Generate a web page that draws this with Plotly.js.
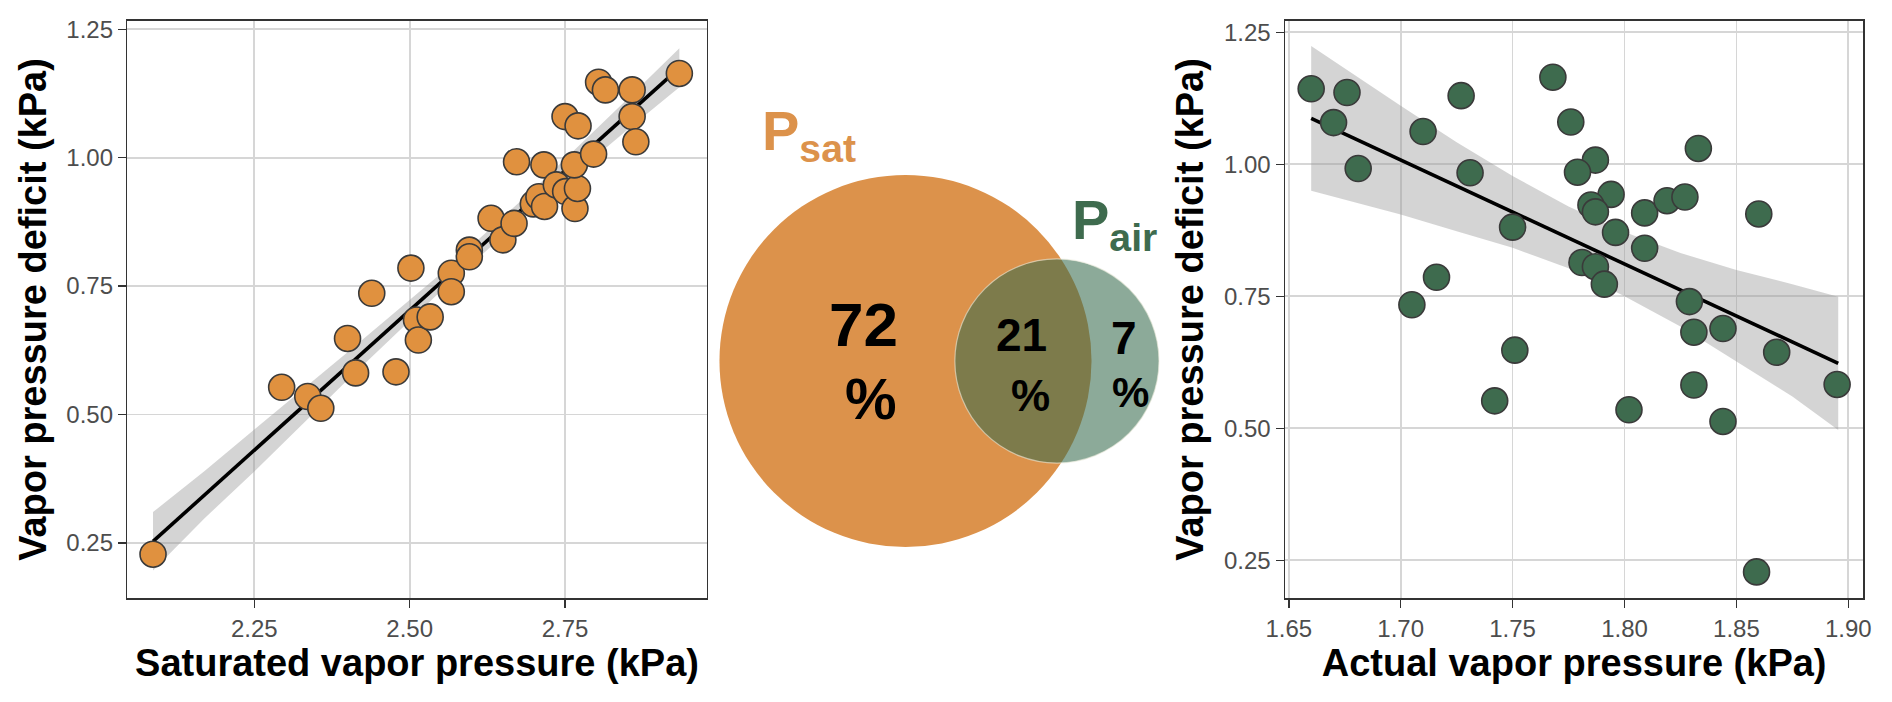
<!DOCTYPE html>
<html>
<head>
<meta charset="utf-8">
<script src="https://cdn.plot.ly/plotly-3.0.1.min.js"></script>
<style>
  html, body { margin: 0; padding: 0; background: #ffffff; }
  #chart { width: 1892px; height: 702px; }
</style>
</head>
<body>
<div id="chart"></div>
<script>
// --- Données ---

// Panneau gauche : pression de vapeur saturante vs déficit
const satPressure = [2.087, 2.294, 2.336, 2.357, 2.400, 2.413, 2.439, 2.478, 2.502, 2.511,
                     2.514, 2.533, 2.567, 2.567, 2.596, 2.596, 2.631, 2.650, 2.668, 2.672,
                     2.699, 2.708, 2.717, 2.716, 2.736, 2.751, 2.766, 2.770, 2.765, 2.750,
                     2.771, 2.796, 2.804, 2.815, 2.858, 2.858, 2.864, 2.934];
const satDeficit  = [0.228, 0.553, 0.535, 0.512, 0.648, 0.581, 0.736, 0.583, 0.785, 0.684,
                     0.645, 0.690, 0.775, 0.739, 0.820, 0.807, 0.882, 0.840, 0.872, 0.992,
                     0.910, 0.924, 0.905, 0.986, 0.947, 0.934, 0.901, 0.940, 0.986, 1.080,
                     1.062, 1.007, 1.147, 1.132, 1.132, 1.080, 1.031, 1.164];

// Droite de régression et intervalle de confiance (gauche)
const satFitX    = [2.087, 2.934];
const satFitY    = [0.253, 1.175];
const satBandX   = [2.087, 2.17, 2.25, 2.40, 2.55, 2.70, 2.85, 2.934];
const satBandLo  = [0.196, 0.298, 0.389, 0.567, 0.740, 0.901, 1.054, 1.137];
const satBandHi  = [0.310, 0.390, 0.471, 0.621, 0.774, 0.939, 1.114, 1.213];

// Panneau droit : pression de vapeur actuelle vs déficit
const airPressure = [1.660, 1.676, 1.670, 1.710, 1.681, 1.727, 1.731, 1.768, 1.776, 1.787,
                     1.779, 1.794, 1.785, 1.787, 1.796, 1.809, 1.809, 1.819, 1.827, 1.833,
                     1.860, 1.750, 1.781, 1.787, 1.791, 1.716, 1.705, 1.829, 1.831, 1.844,
                     1.751, 1.868, 1.831, 1.895, 1.742, 1.802, 1.844, 1.859];
const airDeficit  = [1.143, 1.136, 1.079, 1.062, 0.992, 1.130, 0.984, 1.165, 1.080, 1.008,
                     0.985, 0.943, 0.923, 0.910, 0.871, 0.908, 0.841, 0.931, 0.938, 1.030,
                     0.906, 0.881, 0.814, 0.806, 0.773, 0.786, 0.734, 0.740, 0.682, 0.689,
                     0.648, 0.644, 0.582, 0.583, 0.552, 0.535, 0.513, 0.228];

// Droite de régression et intervalle de confiance (droite)
const airFitX    = [1.660, 1.8955];
const airFitY    = [1.087, 0.623];
const airBandX   = [1.660, 1.68, 1.70, 1.725, 1.75, 1.775, 1.80, 1.825, 1.85, 1.875, 1.8955];
const airBandLo  = [0.950, 0.928, 0.905, 0.873, 0.842, 0.803, 0.750, 0.693, 0.626, 0.560, 0.497];
const airBandHi  = [1.224, 1.167, 1.111, 1.042, 0.978, 0.920, 0.872, 0.832, 0.800, 0.773, 0.749];

// Diagramme de Venn : parts de variance expliquée (%)
const vennLabels   = ['P<sub>sat</sub>', 'P<sub>air</sub>'];
const vennOnlySat  = 72;
const vennShared   = 21;
const vennOnlyAir  = 7;
const vennDistance = 7.85;   // distance entre centres (unités du rayon)

const xTicksSat = [2.25, 2.50, 2.75];
const xTicksAir = [1.65, 1.70, 1.75, 1.80, 1.85, 1.90];
const yTicks    = [0.25, 0.50, 0.75, 1.00, 1.25];

// --- Styles ---
const FONT = 'Liberation Sans, Arial, Helvetica, sans-serif';
const ORANGE = '#e0913f';
const GREEN = '#3e6b4e';
const W = 1892, H = 702;

function axisStyle(extra) {
    return Object.assign({
        showline: true,
        mirror: true,
        linecolor: '#333333',
        linewidth: 1.5,
        ticks: 'outside',
        ticklen: 8,
        tickwidth: 1.5,
        tickcolor: '#333333',
        showgrid: true,
        gridcolor: '#d6d6d6',
        gridwidth: 1.8,
        zeroline: false,
        fixedrange: true,
        tickfont: { family: FONT, size: 24, color: '#4d4d4d' }
    }, extra);
}

function axisTitle(text, standoff) {
    return { text: text, standoff: standoff, font: { family: FONT, size: 38, color: '#000000', weight: 'bold' } };
}

function scatterPanel(x, y, color, xa, ya) {
    return {
        x: x, y: y, xaxis: xa, yaxis: ya,
        type: 'scatter', mode: 'markers',
        marker: { size: 26, color: color, line: { color: '#3a3a3a', width: 1.6 } },
        hoverinfo: 'x+y', showlegend: false
    };
}

function bandTraces(bx, lo, hi, xa, ya) {
    return [
        { x: bx, y: lo, xaxis: xa, yaxis: ya, type: 'scatter', mode: 'lines',
          line: { width: 0, color: 'rgba(0,0,0,0)' }, hoverinfo: 'skip', showlegend: false },
        { x: bx, y: hi, xaxis: xa, yaxis: ya, type: 'scatter', mode: 'lines',
          fill: 'tonexty', fillcolor: 'rgba(153,153,153,0.42)',
          line: { width: 0, color: 'rgba(0,0,0,0)' }, hoverinfo: 'skip', showlegend: false }
    ];
}

function fitLine(fx, fy, xa, ya) {
    return { x: fx, y: fy, xaxis: xa, yaxis: ya, type: 'scatter', mode: 'lines',
             line: { color: '#000000', width: 3.6 }, hoverinfo: 'skip', showlegend: false };
}

const traces = [].concat(
    bandTraces(satBandX, satBandLo, satBandHi, 'x', 'y'),
    [fitLine(satFitX, satFitY, 'x', 'y')],
    [scatterPanel(satPressure, satDeficit, ORANGE, 'x', 'y')],
    bandTraces(airBandX, airBandLo, airBandHi, 'x2', 'y2'),
    [fitLine(airFitX, airFitY, 'x2', 'y2')],
    [scatterPanel(airPressure, airDeficit, GREEN, 'x2', 'y2')]
);

// Domaines (en pixels -> fraction)
const panelTop = 1 - 20.7 / H;
const panelBottom = 1 - 598.3 / H;

// Venn : une unité = 19.29 px, centre P_sat à (905.5, 361)
const unit = 19.29;
const vx0 = 712, vx1 = 1172;
const vennX = [-(905.5 - vx0) / unit, (vx1 - 905.5) / unit];
const vennY = [-(H - 361) / unit, 361 / unit];

const rSat = Math.sqrt(vennOnlySat + vennShared);
const rAir = Math.sqrt(vennOnlyAir + vennShared);

const shapes = [
    { type: 'circle', xref: 'x3', yref: 'y3', x0: -rSat, x1: rSat, y0: -rSat, y1: rSat,
      fillcolor: '#dc924b', line: { width: 0 }, layer: 'above' },
    { type: 'circle', xref: 'x3', yref: 'y3',
      x0: vennDistance - rAir, x1: vennDistance + rAir, y0: -rAir, y1: rAir,
      fillcolor: 'rgba(52,105,75,0.57)', line: { width: 1.2, color: 'rgba(235,235,220,0.6)' }, layer: 'above' }
];

function vennText(text, x, y, size, color) {
    return { xref: 'x3', yref: 'y3', x: x, y: y, text: text, showarrow: false,
             xanchor: 'center', yanchor: 'middle',
             font: { family: FONT, size: size, color: color, weight: 'bold' } };
}

const annotations = [
    vennText(vennLabels[0], -5.0, 11.75, 56, '#dc924b'),
    vennText(vennLabels[1], 10.85, 7.15, 56, '#3e6b4e'),
    vennText(String(vennOnlySat), -2.2, 1.9, 62, '#000000'),
    vennText('%', -1.8, -1.95, 58, '#000000'),
    vennText(String(vennShared), 6.0, 1.35, 46, '#000000'),
    vennText('%', 6.5, -1.8, 44, '#000000'),
    vennText(String(vennOnlyAir), 11.33, 1.2, 46, '#000000'),
    vennText('%', 11.65, -1.65, 42, '#000000')
];

const layout = {
    width: W,
    height: H,
    margin: { l: 0, r: 0, t: 0, b: 0 },
    paper_bgcolor: '#ffffff',
    plot_bgcolor: 'rgba(0,0,0,0)',
    showlegend: false,
    font: { family: FONT },
    xaxis: axisStyle({
        domain: [127.3 / W, 706.7 / W], range: [2.0456, 2.978], anchor: 'y',
        tickvals: xTicksSat, ticktext: xTicksSat.map(v => v.toFixed(2)),
        title: axisTitle('Saturated vapor pressure (kPa)', 8)
    }),
    yaxis: axisStyle({
        domain: [panelBottom, panelTop], range: [0.1421, 1.2667], anchor: 'x',
        tickvals: yTicks, ticktext: yTicks.map(v => v.toFixed(2)),
        title: axisTitle('Vapor pressure deficit (kPa)', 8)
    }),
    xaxis2: axisStyle({
        domain: [1285 / W, 1863.3 / W], range: [1.6483, 1.9067], anchor: 'y2',
        tickvals: xTicksAir, ticktext: xTicksAir.map(v => v.toFixed(2)),
        title: axisTitle('Actual vapor pressure (kPa)', 8)
    }),
    yaxis2: axisStyle({
        domain: [panelBottom, panelTop], range: [0.178, 1.272], anchor: 'x2',
        tickvals: yTicks, ticktext: yTicks.map(v => v.toFixed(2)),
        title: axisTitle('Vapor pressure deficit (kPa)', 8)
    }),
    xaxis3: { domain: [vx0 / W, vx1 / W], range: vennX, anchor: 'y3', visible: false, fixedrange: true },
    yaxis3: { domain: [0, 1], range: vennY, anchor: 'x3', visible: false, fixedrange: true },
    shapes: shapes,
    annotations: annotations
};

Plotly.newPlot('chart', traces, layout, { displayModeBar: false, staticPlot: true });
</script>
</body>
</html>
